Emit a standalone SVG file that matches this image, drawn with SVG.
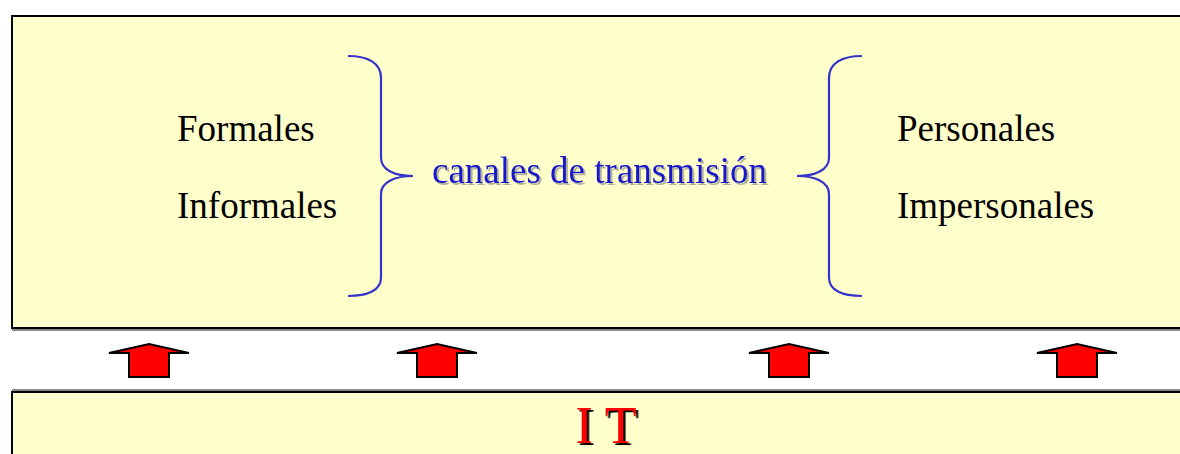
<svg xmlns="http://www.w3.org/2000/svg" width="1180" height="454" viewBox="0 0 1180 454">
<defs>
<style>
.box{fill:#ffffcc;stroke:#000;stroke-width:2}
.boxsh{fill:none;stroke:#888;stroke-width:2}
.brace{fill:none;stroke:#3333cc;stroke-width:2.2}
.arrow{fill:#ff0000;stroke:#000;stroke-width:2;stroke-linejoin:miter}
</style>
<filter id="gsh" x="-5%" y="-20%" width="110%" height="140%">
<feDropShadow dx="2" dy="2" stdDeviation="0.6" flood-color="#a0a090" flood-opacity="0.8"/>
</filter>
<filter id="ksh" x="-10%" y="-20%" width="120%" height="140%">
<feDropShadow dx="2.5" dy="2" stdDeviation="0.3" flood-color="#000" flood-opacity="1"/>
</filter>
<path id="arr" d="M -40 9 L 0 0 L 40 9 L 20 9 L 20 33 L -20 33 L -20 9 Z"/>
</defs>
<rect x="0" y="0" width="1180" height="454" fill="#ffffff"/>
<g id="top-box">
<rect class="box" x="12" y="16" width="1180" height="312"/>
<line class="boxsh" x1="12" y1="330" x2="1180" y2="330"/>
<g font-family="Liberation Serif, Times New Roman, serif" font-size="37" fill="#000">
<text x="177" y="141">Formales</text>
<text x="177" y="218">Informales</text>
<text x="897" y="141">Personales</text>
<text x="897" y="218">Impersonales</text>
</g>
<text x="432" y="183" font-family="Liberation Serif, Times New Roman, serif" font-size="37" fill="#1414cc" filter="url(#gsh)">canales de transmisión</text>
</g>
<g id="braces">
<path class="brace" d="M 348 56 C 368 56 381 63 381 78 L 381 158 C 381 170 395 176 413 176 C 395 176 381 182 381 194 L 381 278 C 381 290 368 296 348 296"/>
<path class="brace" d="M 862 56 C 842 56 829 63 829 78 L 829 158 C 829 170 815 176 797 176 C 815 176 829 182 829 194 L 829 278 C 829 290 842 296 862 296"/>
</g>
<g id="connectors">
<use href="#arr" class="arrow" transform="translate(149,344)"/>
<use href="#arr" class="arrow" transform="translate(437,344)"/>
<use href="#arr" class="arrow" transform="translate(789,344)"/>
<use href="#arr" class="arrow" transform="translate(1077,344)"/>
</g>
<g id="bottom-box">
<rect class="box" x="12" y="392" width="1180" height="80"/>
<line class="boxsh" x1="12" y1="390" x2="1180" y2="390"/>
<text x="606" y="443" text-anchor="middle" font-family="Liberation Serif, Times New Roman, serif" font-size="52" fill="#ff0000" filter="url(#ksh)">I T</text>
</g>
</svg>
